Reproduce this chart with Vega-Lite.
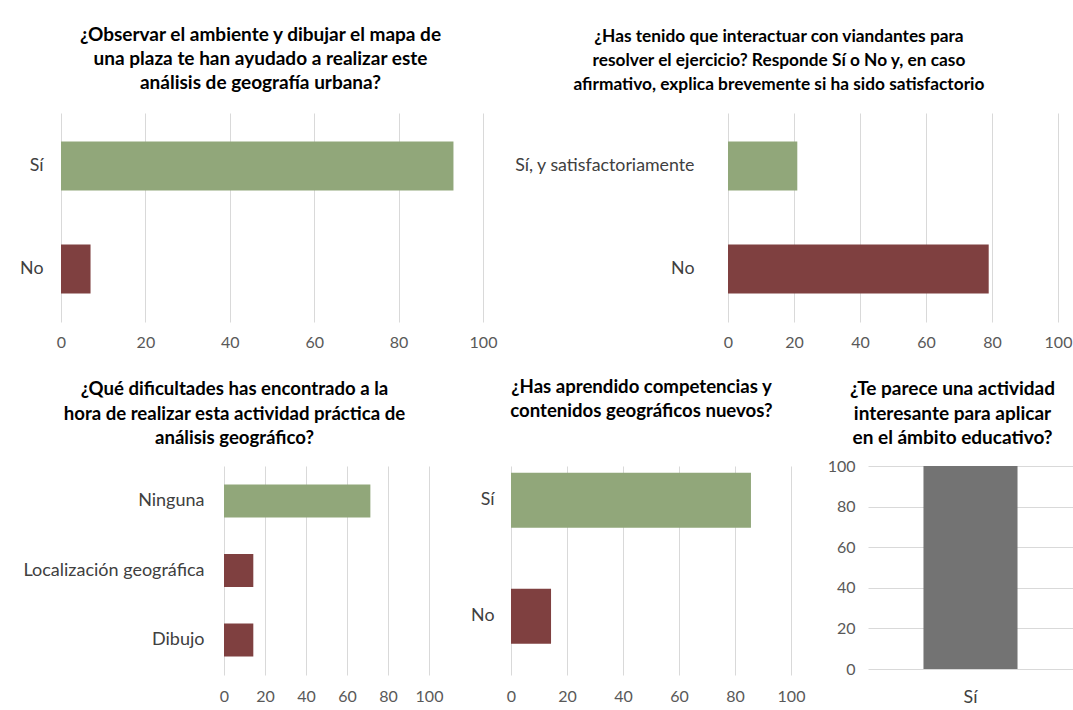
{
  "$schema": "https://vega.github.io/schema/vega-lite/v6.json",
  "background": "white",
  "padding": {"left": 0, "top": 26, "right": 0, "bottom": 0},
  "config": {
    "font": "Lato",
    "view": {"stroke": null},
    "title": {"font": "Lato", "fontSize": 19, "fontWeight": "bold", "color": "#000000", "lineHeight": 24, "anchor": "middle", "frame": "bounds", "offset": 20},
    "axis": {"labelFont": "Lato", "domain": false, "ticks": false, "tickSize": 0, "title": null, "gridColor": "#d9d9d9", "labelColor": "#595959", "labelFontSize": 16, "labelFlush": false, "labelLimit": 300}
  },
  "datasets": {
    "p1": [{"cat": "Sí", "value": 93}, {"cat": "No", "value": 7}],
    "p2": [{"cat": "Sí, y satisfactoriamente", "value": 21}, {"cat": "No", "value": 79}],
    "p3": [{"cat": "Ninguna", "value": 71.4}, {"cat": "Localización geográfica", "value": 14.3}, {"cat": "Dibujo", "value": 14.3}],
    "p4": [{"cat": "Sí", "value": 85.7}, {"cat": "No", "value": 14.3}],
    "p5": [{"cat": "Sí", "value": 100}]
  },
  "columns": 1,
  "align": "none",
  "spacing": 28,
  "concat": [
    {
      "align": "none",
      "spacing": 15,
      "concat": [
        {"data": {"values": []}, "width": 1, "height": 1, "mark": {"type": "point", "opacity": 0}, "encoding": {}},
        {
          "data": {"name": "p1"},
          "title": {"text": ["¿Observar el ambiente y dibujar el mapa de", "una plaza te han ayudado a realizar este", "análisis de geografía urbana?"], "dx": 4},
          "width": 422, "height": 209,
          "mark": {"type": "bar"},
          "encoding": {
            "y": {"field": "cat", "type": "nominal", "sort": null, "scale": {"paddingInner": 0.524, "paddingOuter": 0.277},
                  "axis": {"labelPadding": 18, "minExtent": 45, "maxExtent": 45, "labelColor": "#404040", "labelFontSize": 17.8}},
            "x": {"field": "value", "type": "quantitative", "scale": {"domain": [0, 100], "nice": false},
                  "axis": {"values": [0, 20, 40, 60, 80, 100], "grid": true, "labelPadding": 12}},
            "color": {"condition": {"test": "datum.cat === 'No'", "value": "#7F4040"}, "value": "#91A77A"}
          }
        },
        {
          "data": {"name": "p2"},
          "title": {"text": ["¿Has tenido que interactuar con viandantes para", "resolver el ejercicio? Responde Sí o No y, en caso", "afirmativo, explica brevemente si ha sido satisfactorio"], "dx": -13, "fontSize": 17.3},
          "width": 330, "height": 209,
          "mark": {"type": "bar"},
          "encoding": {
            "y": {"field": "cat", "type": "nominal", "sort": null, "scale": {"paddingInner": 0.524, "paddingOuter": 0.277},
                  "axis": {"labelPadding": 34, "minExtent": 216, "maxExtent": 216, "labelColor": "#404040", "labelFontSize": 17.8}},
            "x": {"field": "value", "type": "quantitative", "scale": {"domain": [0, 100], "nice": false},
                  "axis": {"values": [0, 20, 40, 60, 80, 100], "grid": true, "labelPadding": 12}},
            "color": {"condition": {"test": "datum.cat === 'No'", "value": "#7F4040"}, "value": "#91A77A"}
          }
        }
      ]
    },
    {
      "align": "none",
      "spacing": 15,
      "concat": [
        {"data": {"values": []}, "width": 1, "height": 1, "mark": {"type": "point", "opacity": 0}, "encoding": {}},
        {
          "data": {"name": "p3"},
          "title": {"text": ["¿Qué dificultades has encontrado a la", "hora de realizar esta actividad práctica de", "análisis geográfico?"], "dx": 5, "offset": 18, "fontSize": 18.6, "lineHeight": 24.5},
          "width": 205, "height": 209,
          "mark": {"type": "bar"},
          "encoding": {
            "y": {"field": "cat", "type": "nominal", "sort": null, "scale": {"paddingInner": 0.525, "paddingOuter": 0.266},
                  "axis": {"labelPadding": 20, "minExtent": 208, "maxExtent": 208, "labelColor": "#404040", "labelFontSize": 18}},
            "x": {"field": "value", "type": "quantitative", "scale": {"domain": [0, 100], "nice": false},
                  "axis": {"values": [0, 20, 40, 60, 80, 100], "grid": true, "labelPadding": 13}},
            "color": {"condition": {"test": "datum.cat !== 'Ninguna'", "value": "#7F4040"}, "value": "#91A77A"}
          }
        },
        {
          "data": {"name": "p4"},
          "title": {"text": ["¿Has aprendido competencias y", "contenidos geográficos nuevos?"], "dx": 10, "offset": 45, "fontSize": 18.6},
          "width": 280, "height": 209,
          "mark": {"type": "bar"},
          "encoding": {
            "y": {"field": "cat", "type": "nominal", "sort": null, "scale": {"paddingInner": 0.526, "paddingOuter": 0.164, "align": 0.18},
                  "axis": {"labelPadding": 17, "minExtent": 53, "maxExtent": 53, "labelColor": "#404040", "labelFontSize": 17.8}},
            "x": {"field": "value", "type": "quantitative", "scale": {"domain": [0, 100], "nice": false},
                  "axis": {"values": [0, 20, 40, 60, 80, 100], "grid": true, "labelPadding": 13}},
            "color": {"condition": {"test": "datum.cat === 'No'", "value": "#7F4040"}, "value": "#91A77A"}
          }
        },
        {
          "data": {"name": "p5"},
          "title": {"text": ["¿Te parece una actividad", "interesante para aplicar", "en el ámbito educativo?"], "dx": 6, "offset": 10, "lineHeight": 24.5},
          "width": 205, "height": 203,
          "mark": {"type": "bar", "color": "#737373"},
          "encoding": {
            "x": {"field": "cat", "type": "nominal", "scale": {"paddingInner": 0.371, "paddingOuter": 0.371},
                  "axis": {"labelPadding": 19, "labelAngle": 0, "labelColor": "#404040", "labelFontSize": 17.8}},
            "y": {"field": "value", "type": "quantitative", "scale": {"domain": [0, 100], "nice": false},
                  "axis": {"values": [0, 20, 40, 60, 80, 100], "grid": true, "labelPadding": 13, "minExtent": 48, "maxExtent": 48}}
          }
        }
      ]
    }
  ]
}
